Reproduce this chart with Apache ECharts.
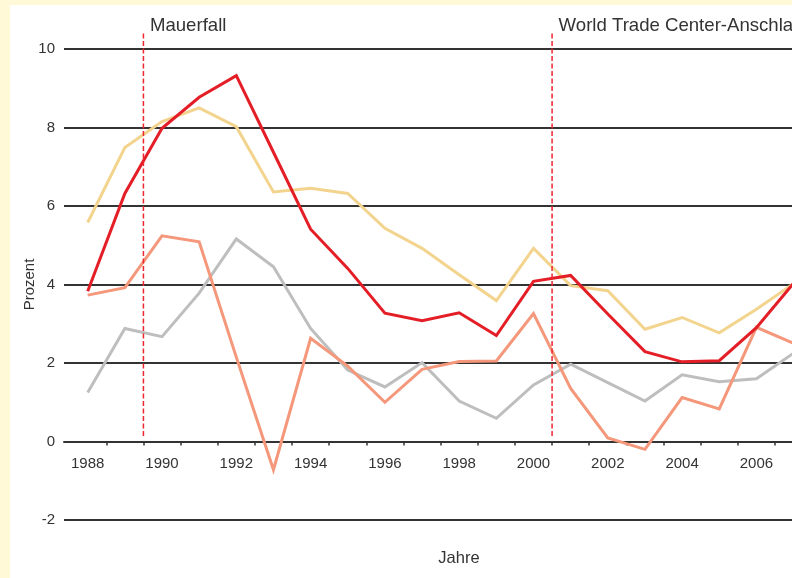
<!DOCTYPE html>
<html>
<head>
<meta charset="utf-8">
<script src="https://cdn.jsdelivr.net/npm/echarts@6/dist/echarts.min.js"></script>
<style>
html,body{margin:0;padding:0;background:#fff;}
#chart{width:792px;height:578px;}
</style>
</head>
<body>
<div id="chart"></div>
<script>
// ---- data ----
const years = [1988,1989,1990,1991,1992,1993,1994,1995,1996,1997,1998,1999,2000,2001,2002,2003,2004,2005,2006,2007];
const seriesRed    = [3.83,6.32,7.98,8.77,9.32,7.37,5.41,4.41,3.27,3.08,3.28,2.70,4.08,4.23,3.25,2.29,2.03,2.06,2.90,4.03];
const seriesYellow = [5.58,7.49,8.15,8.50,8.02,6.36,6.45,6.32,5.43,4.92,4.25,3.59,4.92,3.97,3.84,2.86,3.16,2.77,3.37,4.02];
const seriesOrange = [3.73,3.92,5.24,5.09,2.15,-0.72,2.63,1.92,1.00,1.84,2.04,2.05,3.26,1.35,0.09,-0.20,1.12,0.83,2.91,2.50];
const seriesGray   = [1.25,2.88,2.67,3.78,5.16,4.45,2.88,1.82,1.39,2.01,1.03,0.59,1.44,1.97,1.50,1.03,1.70,1.52,1.60,2.25];
const xTickLabels = [1988,1990,1992,1994,1996,1998,2000,2002,2004,2006];
const xTickMarks  = [1988.5,1989.5,1990.5,1991.5,1992.5,1993.5,1994.5,1995.5,1996.5,1997.5,1998.5,1999.5,2000.5,2001.5,2002.5,2003.5,2004.5,2005.5,2006.5,2007.5];
const eventNames = ['Mauerfall','World Trade Center-Anschlag'];
const eventYears = [1989.5, 2000.5];
const eventSpan  = [0.14, 10.41];

// ---- helpers ----
function pairs(vals){ return years.map((y,i)=>[y, vals[i]]); }
const FONT = '"Liberation Sans", Arial, sans-serif';
const TXT = '#333333';

function lineSeries(name, vals, color, z){
  return {
    name, type:'line', data: pairs(vals), showSymbol:false, symbol:'none',
    clip:false, silent:true, z,
    lineStyle:{color, width:3, join:'miter'}
  };
}
function eventSeries(i){
  return {
    name: eventNames[i], type:'line', clip:false, silent:true, z:10,
    symbol:'circle', symbolSize:0, showSymbol:true,
    lineStyle:{color:'#EE2630', width:1.5, type:[5,2.5]},
    itemStyle:{color:'rgba(0,0,0,0)'},
    data:[
      {value:[eventYears[i], eventSpan[0]], label:{show:false}},
      {value:[eventYears[i], eventSpan[1]], label:{
        show:true, position:'right', distance:6.5, offset:[0,-7],
        formatter: eventNames[i], fontSize:18.6, fontFamily:FONT, color:TXT
      }}
    ]
  };
}

const chart = echarts.init(document.getElementById('chart'), null, {renderer:'canvas'});
chart.setOption({
  animation:false,
  backgroundColor:'#ffffff',
  textStyle:{fontFamily:FONT},
  graphic:[
    {type:'rect', z:-10, shape:{x:0,y:0,width:792,height:5}, style:{fill:'#FFF9D8'}},
    {type:'rect', z:-10, shape:{x:0,y:0,width:10,height:578}, style:{fill:'#FFF9D8'}}
  ],
  grid:{left:64, right:-62, top:49, bottom:58, containLabel:false, outerBoundsMode:'none'},
  xAxis:{
    type:'value', min:1987.362, max:2008.627,
    name:'Jahre', nameLocation:'middle', nameGap:30,
    nameTextStyle:{fontSize:16.5, color:TXT, fontFamily:FONT},
    axisLine:{show:true, onZero:true, lineStyle:{color:'#333', width:2}},
    axisTick:{show:true, customValues:xTickMarks, length:4, lineStyle:{color:'#333', width:1.5}},
    axisLabel:{customValues:xTickLabels, fontSize:15, color:TXT, margin:-64, fontFamily:FONT,
               formatter:(v)=>String(Math.round(v))},
    splitLine:{show:false}
  },
  yAxis:{
    type:'value', min:-2, max:10, interval:2,
    name:'Prozent', nameLocation:'middle', nameGap:27, nameMoveOverlap:false,
    nameTextStyle:{fontSize:15, color:TXT, fontFamily:FONT},
    axisLine:{show:false}, axisTick:{show:false},
    axisLabel:{fontSize:15, color:TXT, margin:9, fontFamily:FONT},
    splitLine:{show:true, lineStyle:{color:'#333', width:2}}
  },
  series:[
    lineSeries('Grau', seriesGray, '#BEBEBE', 2),
    lineSeries('Gelb', seriesYellow, '#F3D48E', 3),
    lineSeries('Orange', seriesOrange, '#F4977A', 4),
    lineSeries('Rot', seriesRed, '#E41E26', 5),
    eventSeries(0),
    eventSeries(1)
  ]
});
</script>
</body>
</html>
